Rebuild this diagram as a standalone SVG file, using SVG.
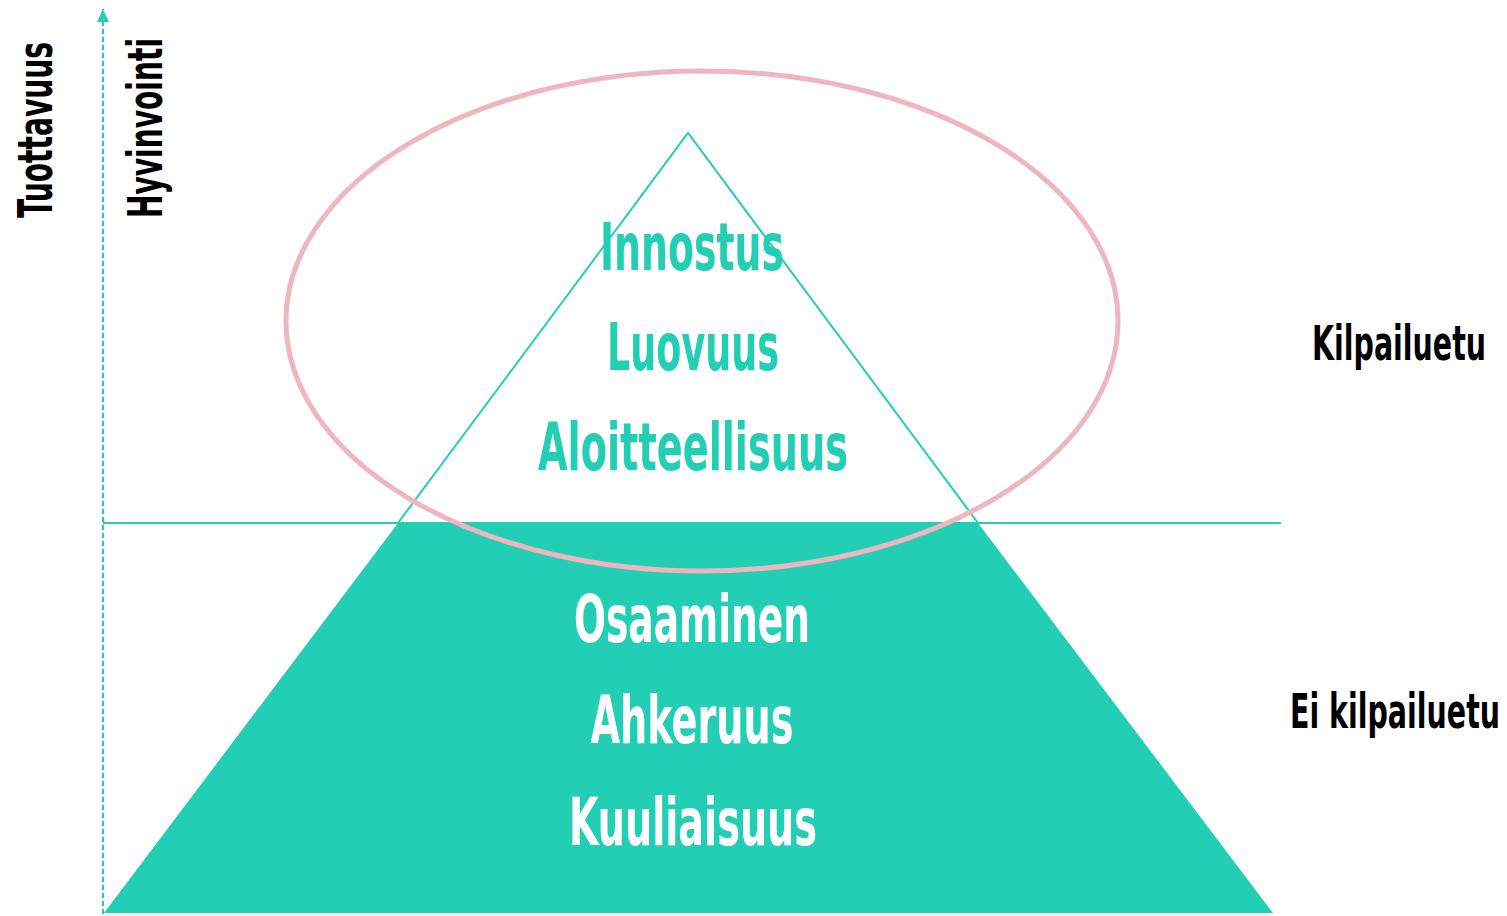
<svg xmlns="http://www.w3.org/2000/svg" width="1507" height="916" viewBox="0 0 1507 916">
<style>
.t{font-family:"DejaVu Sans Condensed","DejaVu Sans",sans-serif;font-weight:bold;}
.in{fill:#23cfb4;font-size:66px;text-anchor:middle}
.wh{fill:#ffffff;font-size:66px;text-anchor:middle}
.bk{fill:#000000;font-size:28px}
</style>
<defs>
<marker id="ah" markerWidth="14" markerHeight="14" refX="13" refY="6" orient="auto" markerUnits="userSpaceOnUse">
<path d="M0,0 L13,6 L0,12 Z" fill="#23cfb4"/>
</marker>
</defs>
<rect width="1507" height="916" fill="#ffffff"/>
<g id="pyramid">
<polygon points="398,523 978,523 1273,913 104,913" fill="#23cfb4"/>
<polyline points="398,523 688,133 978,523" fill="none" stroke="#23cfb4" stroke-width="2"/>
</g>
<g id="connectors">
<line x1="103" y1="914" x2="103" y2="9" stroke="#23cfb4" stroke-width="2" stroke-dasharray="5,3" marker-end="url(#ah)"/>
<line x1="103" y1="523" x2="1281" y2="523" stroke="#23cfb4" stroke-width="2"/>
</g>
<g id="ellipse">
<ellipse cx="702" cy="321" rx="416" ry="250" fill="none" stroke="#f0b6bf" stroke-width="5"/>
</g>
<g id="top-labels">
<text class="t in" x="692" y="270" textLength="184" lengthAdjust="spacingAndGlyphs">Innostus</text>
<text class="t in" x="693" y="370" textLength="172" lengthAdjust="spacingAndGlyphs">Luovuus</text>
<text class="t in" x="693" y="470" textLength="310" lengthAdjust="spacingAndGlyphs">Aloitteellisuus</text>
</g>
<g id="bottom-labels">
<text class="t wh" x="692" y="642" textLength="236" lengthAdjust="spacingAndGlyphs">Osaaminen</text>
<text class="t wh" x="692" y="743" textLength="203" lengthAdjust="spacingAndGlyphs">Ahkeruus</text>
<text class="t wh" x="693" y="845" textLength="248" lengthAdjust="spacingAndGlyphs">Kuuliaisuus</text>
</g>
<g id="side-labels">
<text class="t bk" transform="translate(1312,360) scale(1,1.7)" textLength="174" lengthAdjust="spacingAndGlyphs">Kilpailuetu</text>
<text class="t bk" transform="translate(1290,728) scale(1,1.7)" textLength="210" lengthAdjust="spacingAndGlyphs">Ei kilpailuetu</text>
</g>
<g id="axis-labels">
<text class="t bk" transform="translate(52,218) rotate(-90) scale(1,1.7)" textLength="176" lengthAdjust="spacingAndGlyphs">Tuottavuus</text>
<text class="t bk" transform="translate(162,218) rotate(-90) scale(1,1.7)" textLength="180" lengthAdjust="spacingAndGlyphs">Hyvinvointi</text>
</g>
</svg>
